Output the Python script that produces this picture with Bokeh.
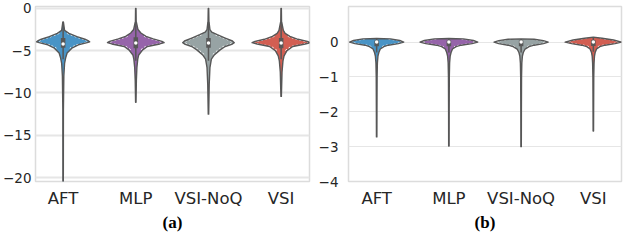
import numpy as np
from bokeh.plotting import figure
from bokeh.layouts import row
from bokeh.models import FixedTicker, Range1d, Title, CustomJSTickFormatter
from bokeh.embed import file_html
from bokeh.resources import INLINE

categories = ["AFT", "MLP", "VSI-NoQ", "VSI"]
colors = ["#4994c6", "#9664aa", "#97a3a4", "#d25e52"]

# ---- panel (a): violin half-width profiles (value, half-width in category units)
a_aft_y = [-1.6, -2.6, -2.95, -3.33, -3.64, -3.85, -3.95, -4.05, -4.3, -4.7, -5.27, -5.85, -6.5, -8.0, -12.0, -20.9]
a_aft_w = [0.004, 0.02, 0.08, 0.19, 0.30, 0.35, 0.365, 0.33, 0.21, 0.12, 0.055, 0.035, 0.02, 0.01, 0.004, 0.003]
a_mlp_y = [0.0, -1.5, -2.5, -2.9, -3.3, -3.6, -3.9, -4.05, -4.2, -4.5, -4.9, -5.5, -6.0, -7.0, -8.5, -11.1]
a_mlp_w = [0.003, 0.005, 0.03, 0.07, 0.14, 0.24, 0.36, 0.39, 0.33, 0.16, 0.095, 0.04, 0.027, 0.015, 0.008, 0.003]
a_noq_y = [0.0, -1.5, -2.5, -2.8, -3.1, -3.5, -3.85, -4.05, -4.25, -4.5, -4.9, -5.5, -6.0, -7.0, -9.0, -12.5]
a_noq_w = [0.003, 0.006, 0.02, 0.045, 0.12, 0.23, 0.33, 0.355, 0.32, 0.23, 0.16, 0.08, 0.04, 0.02, 0.01, 0.003]
a_vsi_y = [0.0, -1.5, -2.6, -2.95, -3.3, -3.65, -3.9, -4.05, -4.2, -4.5, -5.0, -5.6, -6.2, -7.5, -10.4]
a_vsi_w = [0.003, 0.005, 0.03, 0.055, 0.12, 0.23, 0.36, 0.40, 0.33, 0.16, 0.08, 0.04, 0.025, 0.012, 0.003]
# inner box stats for (a): whisker high, q3, median, q1, whisker low
a_whi = [-1.6, -1.5, -1.5, -1.5]
a_q3 = [-3.5, -3.4, -3.5, -3.5]
a_med = [-4.2, -4.1, -4.1, -4.1]
a_q1 = [-4.65, -4.7, -4.65, -4.7]
a_wlo = [-6.0, -6.2, -6.2, -6.0]

# ---- panel (b)
b_aft_y = [0.10, 0.09, 0.045, 0.0, -0.045, -0.09, -0.13, -0.2, -0.3, -0.4, -0.6, -1.0, -2.0, -2.72]
b_aft_w = [0.0, 0.19, 0.32, 0.375, 0.30, 0.16, 0.10, 0.05, 0.03, 0.018, 0.01, 0.006, 0.004, 0.003]
b_mlp_y = [0.10, 0.09, 0.045, 0.0, -0.045, -0.09, -0.13, -0.2, -0.3, -0.4, -0.6, -1.0, -2.0, -2.98]
b_mlp_w = [0.0, 0.2, 0.34, 0.40, 0.32, 0.17, 0.10, 0.05, 0.03, 0.018, 0.01, 0.006, 0.004, 0.003]
b_noq_y = [0.09, 0.08, 0.04, 0.0, -0.045, -0.09, -0.13, -0.2, -0.3, -0.4, -0.6, -1.0, -2.0, -3.0]
b_noq_w = [0.0, 0.18, 0.31, 0.375, 0.31, 0.18, 0.11, 0.055, 0.03, 0.018, 0.01, 0.006, 0.004, 0.003]
b_vsi_y = [0.14, 0.11, 0.06, 0.0, -0.045, -0.09, -0.13, -0.2, -0.3, -0.4, -0.6, -1.0, -2.0, -2.55]
b_vsi_w = [0.0, 0.12, 0.28, 0.39, 0.30, 0.16, 0.09, 0.045, 0.025, 0.016, 0.01, 0.006, 0.004, 0.003]
b_whi = [0.10, 0.10, 0.09, 0.14]
b_q3 = [0.045, 0.045, 0.045, 0.05]
b_med = [0.0, 0.0, 0.0, 0.0]
b_q1 = [-0.12, -0.12, -0.12, -0.11]
b_wlo = [-0.3, -0.3, -0.3, -0.28]

a_ticks = [0, -5, -10, -15, -20]
b_ticks = [0, -1, -2, -3, -4]

OUTLINE = "#575757"
FONT = "DejaVu Sans"


def make_fig(width, yr, xr, ticks, min_left, min_top, standoff_y, grid_w, caption):
    p = figure(width=width, height=232, output_backend="svg", toolbar_location=None,
               x_range=Range1d(*xr), y_range=Range1d(*yr),
               min_border_left=min_left, min_border_right=3, min_border_top=min_top,
               min_border_bottom=0)
    p.background_fill_color = "white"
    p.border_fill_color = "white"
    p.outline_line_color = "#dcdcdc"
    p.outline_line_width = 1.5
    p.xgrid.visible = False
    p.ygrid.ticker = FixedTicker(ticks=ticks)
    p.ygrid.grid_line_color = "#e6e6e6"
    p.ygrid.grid_line_width = grid_w
    p.yaxis.ticker = FixedTicker(ticks=ticks)
    p.yaxis.formatter = CustomJSTickFormatter(
        code="return tick < 0 ? '\\u2212' + Math.abs(tick) : String(tick);")
    p.xaxis.ticker = FixedTicker(ticks=[0, 1, 2, 3])
    p.xaxis.major_label_overrides = {i: c for i, c in enumerate(categories)}
    for ax in (p.xaxis[0], p.yaxis[0]):
        ax.axis_line_color = None
        ax.major_tick_line_color = None
        ax.minor_tick_line_color = None
        ax.major_tick_out = 0
        ax.major_tick_in = 0
        ax.minor_tick_out = 0
        ax.minor_tick_in = 0
        ax.major_label_text_font = FONT
        ax.major_label_text_color = "#262626"
    p.yaxis.major_label_text_font_size = "13.5px"
    p.yaxis.major_label_standoff = standoff_y
    p.xaxis.major_label_text_font_size = "16.5px"
    p.xaxis.major_label_standoff = 7
    p.add_layout(Title(text=caption, align="center", text_font="Liberation Serif",
                       text_font_style="bold", text_font_size="17px",
                       text_color="black", standoff=1), "below")
    return p


def draw_violin(p, xc, ys, ws, color):
    ys = np.asarray(ys, float)
    ws = np.asarray(ws, float)
    px = np.concatenate([xc + ws, (xc - ws)[::-1]])
    py = np.concatenate([ys, ys[::-1]])
    p.patch(px, py, fill_color=color, line_color=None)
    m = ws > 0.07
    wi = ws[m] - 0.028
    yi = ys[m]
    p.line(xc + wi, yi, line_color="white", line_width=1.0, line_dash="2 2")
    p.line(xc - wi, yi, line_color="white", line_width=1.0, line_dash="2 2")
    p.patch(px, py, fill_alpha=0, line_color=OUTLINE, line_width=1.4, line_join="round")


def draw_boxes(p, whi, q3, med, q1, wlo):
    xs = list(range(len(med)))
    p.segment(xs, whi, xs, wlo, line_color=OUTLINE, line_width=1.5)
    p.segment(xs, q3, xs, q1, line_color=OUTLINE, line_width=4.5)
    p.scatter(xs, med, size=3.5, fill_color="white", line_color=None)


pa = make_fig(312, (-20.47, 0.23), (-0.38, 3.39), a_ticks, 33, 6, 4, 2, "(a)")
for i, (ys, ws) in enumerate([(a_aft_y, a_aft_w), (a_mlp_y, a_mlp_w),
                              (a_noq_y, a_noq_w), (a_vsi_y, a_vsi_w)]):
    draw_violin(pa, i, ys, ws, colors[i])
draw_boxes(pa, a_whi, a_q3, a_med, a_q1, a_wlo)

pb = make_fig(312, (-4.0, 1.02), (-0.39, 3.39), b_ticks, 36, 2, 10, 1, "(b)")
for i, (ys, ws) in enumerate([(b_aft_y, b_aft_w), (b_mlp_y, b_mlp_w),
                              (b_noq_y, b_noq_w), (b_vsi_y, b_vsi_w)]):
    draw_violin(pb, i, ys, ws, colors[i])
draw_boxes(pb, b_whi, b_q3, b_med, b_q1, b_wlo)

layout = row(pa, pb)
open("out.html", "w").write(file_html(layout, INLINE))
